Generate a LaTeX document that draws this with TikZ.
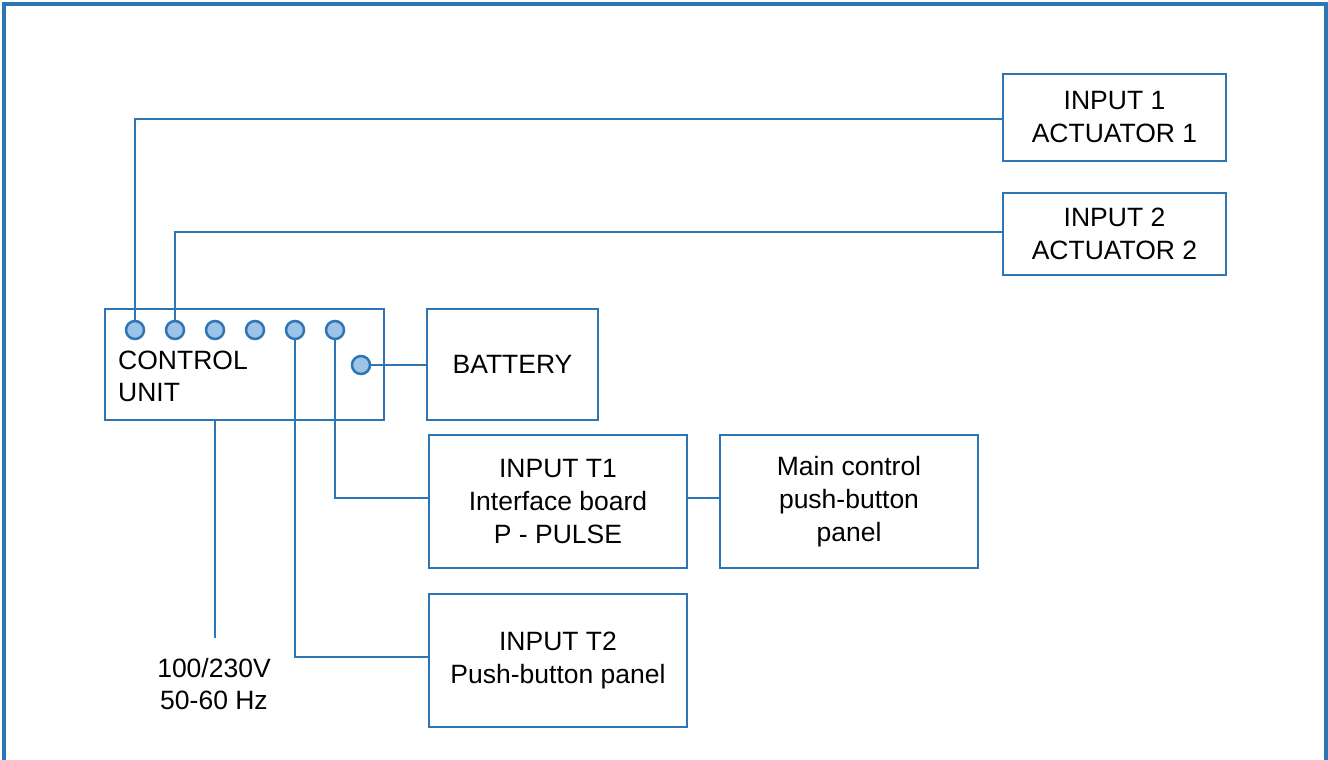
\documentclass[tikz,border=0pt]{standalone}
\usepackage{fontspec}
\setmainfont{Liberation Sans}
\definecolor{bl}{HTML}{2E75B6}
\definecolor{dotfill}{HTML}{9DC3E6}
\begin{document}
\begin{tikzpicture}[x=1pt,y=-1pt,
  box/.style={draw=bl,line width=2.6pt,minimum width=#1,inner sep=0pt,align=center,font=\fontsize{26.5}{33}\selectfont},
  wire/.style={draw=bl,line width=2.5pt},
  pin/.style={circle,draw=bl,fill=dotfill,line width=2.5pt,minimum size=18pt,inner sep=0pt},
  lbl/.style={align=center,font=\fontsize{26.5}{32}\selectfont,inner sep=0pt}]
\useasboundingbox (0,0) rectangle (1328,760);
\draw[bl,line width=3.2pt] (4,764) -- (4,4) -- (1326,4) -- (1326,764);
% control unit
\node[box=279pt,minimum height=111pt] (cu) at (244.5,364.5) {};
\node[lbl,align=left,anchor=west] (cut) at (118,376) {CONTROL\\UNIT};
\node[box=171pt,minimum height=111pt] (bat) at (512.5,364.5) {BATTERY};
\node[box=223pt,minimum height=87pt] (in1) at (1114.5,117.5) {INPUT 1\\ACTUATOR 1};
\node[box=223pt,minimum height=82pt] (in2) at (1114.5,234) {INPUT 2\\ACTUATOR 2};
\node[box=258pt,minimum height=133pt] (t1) at (558,501.5) {INPUT T1\\Interface board\\P - PULSE};
\node[box=258pt,minimum height=133pt] (mc) at (849,501.5) {Main control\\push-button\\panel};
\node[box=258pt,minimum height=133pt] (t2) at (558,660.5) {INPUT T2\\Push-button panel};
\coordinate (pw) at (215,638);
\node[lbl] (pwt) at (214,684) {100/230V\\50-60 Hz};
% wires
\draw[wire] (135,330) |- (in1.west |- 0,119);
\draw[wire] (175,330) |- (in2.west |- 0,232);
\draw[wire] (335,330) |- (t1.west |- 0,498);
\draw[wire] (295,330) |- (t2.west |- 0,657);
\draw[wire] (t1.east |- 0,498) -- (mc.west |- 0,498);
\draw[wire] (361,365) -- (bat.west |- 0,365);
\draw[wire] (cu.south -| pw) -- (pw);
% pins
\foreach \i/\x in {1/135,2/175,3/215,4/255,5/295,6/335}
  \node[pin] (p\i) at (\x,330) {};
\node[pin] (pb) at (361,365) {};
\end{tikzpicture}
\end{document}
